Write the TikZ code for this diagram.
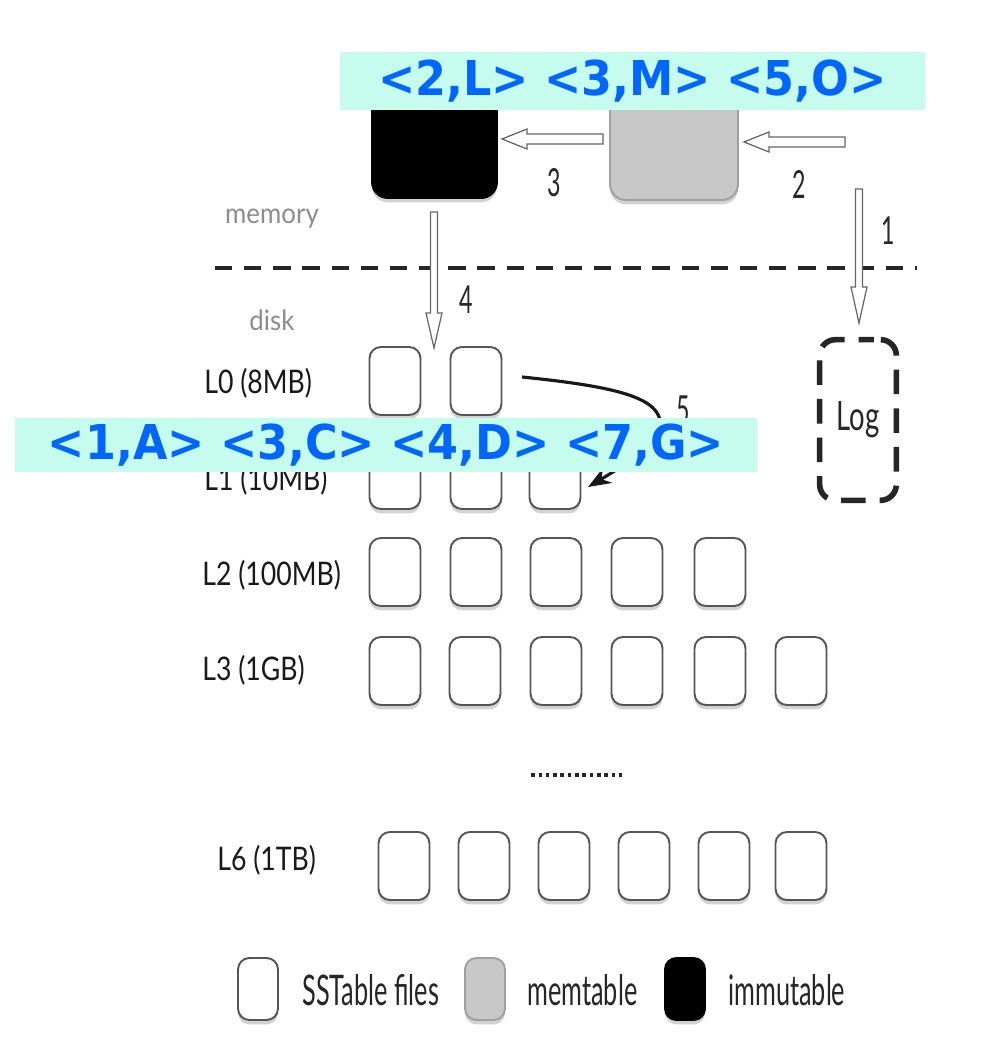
\documentclass[tikz,border=0pt]{standalone}
\usepackage{fontspec}
\setmainfont{Lato}
\newfontfamily\banfont{DejaVu Sans}
\usetikzlibrary{calc,shadows,arrows.meta}
\definecolor{bancyan}{RGB}{198,252,238}
\definecolor{banblue}{RGB}{0,102,255}
\definecolor{boxline}{RGB}{85,85,85}
\definecolor{memgrey}{RGB}{200,200,200}
\definecolor{labgrey}{RGB}{140,140,140}
\newcommand\cond[2]{\scalebox{#1}[1]{#2}}
\newcommand\holarrow[5]{%
  \coordinate (hh) at ($(#2)!#5!(#1)$);
  \draw[holline] ($(#1)!#3!90:(#2)$) -- ($(hh)!#3!90:(#2)$) -- ($(hh)!#4!90:(#2)$) -- (#2)
    -- ($(hh)!#4!-90:(#2)$) -- ($(hh)!#3!-90:(#2)$) -- ($(#1)!#3!-90:(#2)$) -- cycle;}
\tikzset{
  sst/.style={draw=boxline, line width=1.1pt, fill=white, rounded corners=6.5pt,
    minimum width=1.02cm, minimum height=1.36cm, inner sep=0pt,
    drop shadow={shadow xshift=0pt, shadow yshift=-2.5pt, opacity=0.35}},
  memb/.style={sst, fill=memgrey, draw=memgrey!80!black},
  immb/.style={sst, fill=black, draw=black},
  legb/.style={minimum width=0.8cm, minimum height=1.24cm},
  lab/.style={font=\fontsize{18.5pt}{20pt}\selectfont, text=black!90, inner sep=0pt, anchor=west},
  glab/.style={font=\fontsize{16pt}{18pt}\selectfont, text=labgrey, inner sep=0pt},
  num/.style={font=\fontsize{22pt}{24pt}\selectfont, text=black!85, inner sep=0pt},
  leg/.style={font=\fontsize{24pt}{26pt}\selectfont, text=black!85, inner sep=0pt, anchor=base west},
  holline/.style={draw=black!60, fill=white, line width=0.7pt},
  banner/.style={fill=bancyan, text=banblue, inner sep=0pt,
    font=\banfont\bfseries\fontsize{25.3pt}{28pt}\selectfont},
  sep/.style={line width=2.3pt, dash pattern=on 9.8pt off 6.8pt, black!85},
  logb/.style={minimum width=1.52cm, minimum height=3.2cm, inner sep=0pt,
    font=\fontsize{23pt}{24pt}\selectfont, text=black!85},
  logdash/.style={draw=black!85, line width=3.2pt, dash pattern=on 14pt off 8pt,
    dash phase=18pt, rounded corners=9pt},
  dotsq/.style={fill=black!85}
}
\begin{document}
\begin{tikzpicture}[x=0.02cm,y=-0.02cm]
\useasboundingbox (0,0) rectangle (1000,1045);
\fill[white] (0,0) rectangle (1000,1045);
% memory tables
\node[immb, minimum width=2.5cm, minimum height=2.2cm, rounded corners=9pt] (imm) at (434.5,143) {};
\node[memb, minimum width=2.56cm, minimum height=2.2cm, rounded corners=9pt] (mem) at (674,145) {};
% separator
\coordinate (sepl) at (215,268);
\coordinate (sepr) at (917,268);
\draw[sep] (sepl) -- (sepr);
\node[glab] (memory) at (272,219) {\cond{0.92}{memory}};
\node[glab] (disk) at (272,320) {\cond{0.92}{disk}};
% Log
\node[logb] (log) at (858,420) {\cond{0.68}{Log}};
\draw[logdash] (log.north) -- (log.north east) -- (log.south east) -- (log.south west) -- (log.north west) -- cycle;
% levels
\node[lab] (l0) at (204,383) {\cond{0.82}{L0 (8MB)}};
\node[lab] (l1) at (204,480) {\cond{0.82}{L1 (10MB)}};
\node[lab] (l2) at (202,575) {\cond{0.82}{L2 (100MB)}};
\node[lab] (l3) at (202,670) {\cond{0.82}{L3 (1GB)}};
\node[lab] (l6) at (217,860) {\cond{0.82}{L6 (1TB)}};
\foreach \x [count=\i] in {395,476} \node[sst] (a\i) at (\x,381) {};
\foreach \x [count=\i] in {395,476,555} \node[sst] (b\i) at (\x,475) {};
\foreach \x [count=\i] in {395,476,556,637,720} \node[sst] (c\i) at (\x,572) {};
\foreach \x [count=\i] in {395,475,556,637,720,801} \node[sst] (d\i) at (\x,671) {};
\foreach \x [count=\i] in {404,484,564,644,724,801} \node[sst] (e\i) at (\x,866) {};
% dots
\foreach \i in {0,...,12} \fill[dotsq] ({533+7.3*\i-1.8},773.2) rectangle ++(3.6,3.6);
% hollow arrows
\coordinate (a1s) at (859,189);
\coordinate (a1e) at (859,323);
\holarrow{a1s}{a1e}{0.07cm}{0.16cm}{0.72cm}
\coordinate (a4s) at (434,212);
\coordinate (a4e) at (434,348);
\holarrow{a4s}{a4e}{0.07cm}{0.16cm}{0.7cm}
\coordinate (a3s) at (603,139);
\coordinate (a3e) at (502,139);
\holarrow{a3s}{a3e}{0.1cm}{0.2cm}{0.5cm}
\coordinate (a2s) at (845,142);
\coordinate (a2e) at (744,142);
\holarrow{a2s}{a2e}{0.1cm}{0.2cm}{0.5cm}
\node[num] (n1) at (888,231) {\cond{0.6}{1}};
\node[num] (n2) at (799,184) {\cond{0.6}{2}};
\node[num] (n3) at (554,183) {\cond{0.6}{3}};
\node[num] (n4) at (466,300) {\cond{0.6}{4}};
% compaction arrow 5
\coordinate (c5s) at (522,377);
\coordinate (c5e) at (588,487);
\draw[line width=1.8pt, black!90, -{Stealth[length=13pt,width=10pt]}]
  (c5s) .. controls (610,386) and (655,396) .. (660,420) .. controls (664,440) and (625,465) .. (c5e);
\node[num] (n5) at (683,410) {\cond{0.6}{5}};
% legend
\node[sst, legb] (lg1) at (258,989) {};
\node[leg] (lt1) at (302,1005) {\cond{0.6}{SSTable files}};
\node[memb, legb] (lg2) at (485,989) {};
\node[leg] (lt2) at (527,1005) {\cond{0.6}{memtable}};
\node[immb, legb] (lg3) at (685,989) {};
\node[leg] (lt3) at (728,1005) {\cond{0.6}{immutable}};
% banners
\node[banner, minimum width=11.7cm, minimum height=1.16cm] (ban1) at (632.5,81) {\scalebox{1}[1.08]{<2,L> <3,M> <5,O>}};
\node[banner, minimum width=14.84cm, minimum height=1.08cm] (ban2) at (386,445) {\scalebox{1}[1.08]{<1,A> <3,C> <4,D> <7,G>}};
\end{tikzpicture}
\end{document}
